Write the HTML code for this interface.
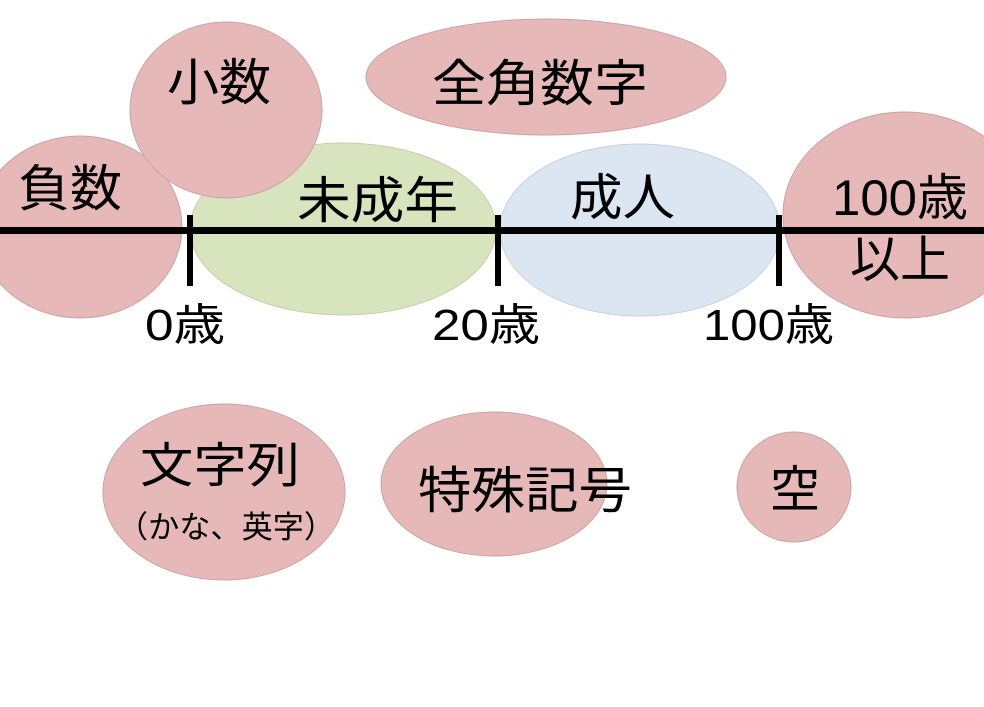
<!DOCTYPE html>
<html><head><meta charset="utf-8"><style>
html,body{margin:0;padding:0;background:#fff;}
svg{display:block;}
text{font-family:"Liberation Sans","Noto Sans CJK JP",sans-serif;fill:#000;}
</style></head><body>
<svg width="984" height="707" viewBox="0 0 984 707" xmlns="http://www.w3.org/2000/svg">
<g stroke="#c9a3a2" stroke-width="1">
<ellipse cx="343" cy="229" rx="153" ry="86" fill="#d7e4bd" stroke="#c3d0aa"/>
<ellipse cx="640" cy="230" rx="140" ry="86" fill="#dce6f2" stroke="#c6d0dc"/>
<ellipse cx="80" cy="227" rx="102" ry="91" fill="#e6b9b8"/>
<ellipse cx="905" cy="215" rx="122" ry="103" fill="#e6b9b8"/>
<ellipse cx="226" cy="110" rx="96" ry="88" fill="#e6b9b8"/>
<ellipse cx="546" cy="77" rx="180" ry="58" fill="#e6b9b8"/>
<ellipse cx="224" cy="492" rx="121" ry="88" fill="#e6b9b8"/>
<ellipse cx="494" cy="484" rx="113" ry="72" fill="#e6b9b8"/>
<ellipse cx="794" cy="487" rx="57" ry="55" fill="#e6b9b8"/>
</g>
<rect x="0" y="227" width="984" height="7" fill="#000"/>
<rect x="187" y="215" width="6" height="71" fill="#000"/>
<rect x="495" y="215" width="6" height="71" fill="#000"/>
<rect x="776" y="215" width="6" height="71" fill="#000"/>
<g font-size="50">
<text x="18" y="206" textLength="104" lengthAdjust="spacingAndGlyphs">負数</text>
<text x="167" y="100" textLength="104" lengthAdjust="spacingAndGlyphs">小数</text>
<text x="432" y="101" textLength="216" lengthAdjust="spacingAndGlyphs">全角数字</text>
<text x="297" y="218" textLength="161" lengthAdjust="spacingAndGlyphs">未成年</text>
<text x="570" y="215" textLength="105" lengthAdjust="spacingAndGlyphs">成人</text>
<text x="832" y="215" textLength="136" lengthAdjust="spacingAndGlyphs">100歳</text>
<text x="850" y="277" textLength="100" lengthAdjust="spacingAndGlyphs">以上</text>
<text x="145" y="340" font-size="44" textLength="80" lengthAdjust="spacingAndGlyphs">0歳</text>
<text x="432" y="340" font-size="44" textLength="108" lengthAdjust="spacingAndGlyphs">20歳</text>
<text x="703" y="340" font-size="44" textLength="131" lengthAdjust="spacingAndGlyphs">100歳</text>
<text x="140" y="482" font-size="48" textLength="160" lengthAdjust="spacingAndGlyphs">文字列</text>
<text x="117" y="538" font-size="31" textLength="218" lengthAdjust="spacingAndGlyphs">（かな、英字）</text>
<text x="418" y="508" textLength="214" lengthAdjust="spacingAndGlyphs">特殊記号</text>
<text x="770" y="507">空</text>
</g>
</svg>
</body></html>
